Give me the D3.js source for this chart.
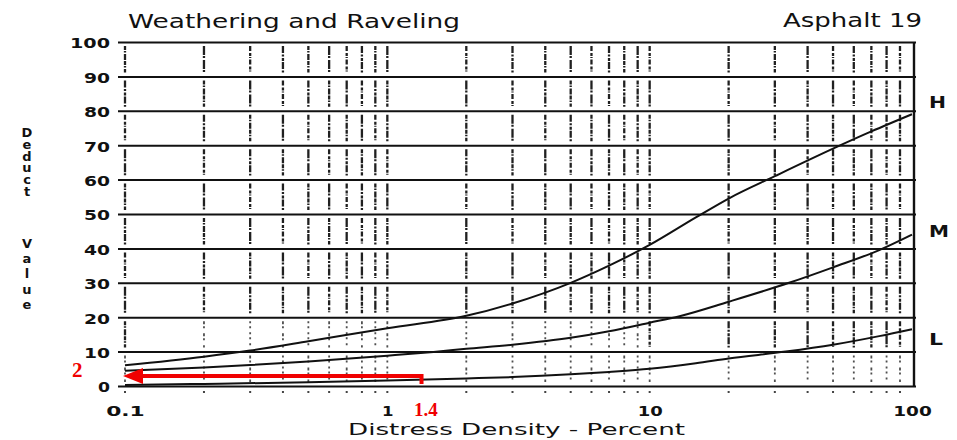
<!DOCTYPE html>
<html>
<head>
<meta charset="utf-8">
<script src="https://cdn.jsdelivr.net/npm/d3@7"></script>
<style>
  html, body { margin: 0; padding: 0; background: #fff; }
  svg { display: block; }
  .vtext { writing-mode: vertical-rl; text-orientation: upright; }
</style>
</head>
<body>
<svg id="chart" width="957" height="440"></svg>
<script>
// ---- data ----
const densityH = [0.1, 0.2, 0.3, 0.5, 1, 2, 3, 5, 7, 10, 15, 20, 30, 50, 70, 100];
const deductH  = [6, 8.5, 10.3, 13, 16.8, 20.4, 24, 30, 35, 41, 49, 54.5, 61, 69, 74, 79];

const densityM = [0.1, 0.2, 0.3, 0.5, 1, 1.5, 2, 3, 5, 7, 10, 13, 20, 34, 50, 75, 100];
const deductM  = [4.4, 5.4, 6.1, 7.1, 8.8, 9.9, 10.8, 12, 14, 15.9, 18.4, 20.3, 24.5, 30, 34.5, 39.5, 44];

const densityL = [0.1, 0.2, 0.5, 1, 2, 3, 5, 7, 10, 15, 20, 33, 50, 75, 100];
const deductL  = [0.3, 0.6, 1.1, 1.6, 2.2, 2.6, 3.4, 4.1, 5, 6.6, 8, 10, 12, 14.5, 16.5];

const curveNames = ["H", "M", "L"];
const curveLabelValues = [79, 44, 16.5];

const yTickValues = [0, 10, 20, 30, 40, 50, 60, 70, 80, 90, 100];
const xTickValues = [0.1, 1, 10, 100];
const xTickLabels = ["0.1", "1", "10", "100"];
const xMinorValues = [0.1, 0.2, 0.3, 0.4, 0.5, 0.6, 0.7, 0.8, 0.9,
                      1, 2, 3, 4, 5, 6, 7, 8, 9,
                      10, 20, 30, 40, 50, 60, 70, 80, 90];

const titleText = "Weathering and Raveling";
const subtitleText = "Asphalt 19";
const xTitleText = "Distress Density - Percent";
const yTitleWords = ["Deduct", "Value"];

// red annotation (arrow from density 1.4 back to deduct value 2)
const annotStartX = 1.35;
const annotArrowY = 2.9;
const annotCornerBottom = 0.6;
const annotXLabel = "1.4";
const annotYLabel = "2";

// ---- scales ----
const svg = d3.select("#chart");
const x = d3.scaleLog().domain([0.1, 100]).range([125, 912]);
const y = d3.scaleLinear().domain([0, 100]).range([386, 42]);
const gridLeft = 118, gridRight = 916;

// ---- minor vertical dashed lines, per 10-unit band ----
const bands = d3.range(0, 100, 10);
const minorG = svg.append("g");
const densePatterns = ["7,1.5,2,1.5,3,1", "4,1,1.5,1.5,6,1", "9,1,2,2", "5,2,3,1,1,1.5"];
xMinorValues.forEach((v, i) => {
  bands.forEach((b, j) => {
    const top = y(b + 10) + 4, bot = y(b) - 4;
    const sparse = (b < 20 && v > 0.15 && v < 10) || (b < 10);
    minorG.append("line")
      .attr("x1", x(v)).attr("x2", x(v))
      .attr("y1", top).attr("y2", bot)
      .attr("stroke", "#151515")
      .attr("stroke-width", sparse ? 1.8 : 2.3)
      .attr("stroke-dasharray", sparse ? ((i + j) % 2 ? "2,3,2,4" : "3,2,2,5") :
            densePatterns[(i + j) % densePatterns.length])
      .attr("opacity", sparse ? 0.75 : 0.95);
  });
  // small dots under the zero line
  minorG.append("rect")
    .attr("x", x(v) - 1).attr("y", y(0) + 5)
    .attr("width", 2).attr("height", 2)
    .attr("fill", "#444");
});

// right solid border at 100
svg.append("line")
  .attr("x1", x(100) + 2).attr("x2", x(100) + 2)
  .attr("y1", y(100)).attr("y2", y(0))
  .attr("stroke", "#111").attr("stroke-width", 2.4);

// ---- y axis with horizontal gridlines ----
const yAxis = d3.axisLeft(y)
  .tickValues(yTickValues)
  .tickSizeInner(-(gridRight - gridLeft))
  .tickSizeOuter(0)
  .tickPadding(8)
  .tickFormat(d3.format("d"));
const yg = svg.append("g")
  .attr("transform", `translate(${gridLeft},0)`)
  .call(yAxis);
yg.select(".domain").remove();
yg.selectAll(".tick line").attr("stroke", "#111").attr("stroke-width", 2);
yg.selectAll(".tick text")
  .attr("font-family", "DejaVu Sans, sans-serif")
  .attr("font-size", 14)
  .attr("font-weight", "bold")
  .attr("fill", "#111")
  .attr("dy", "0.42em")
  .attr("textLength", d => String(d).length * 14 - 2)
  .attr("lengthAdjust", "spacingAndGlyphs");

// ---- x axis labels ----
const xAxis = d3.axisBottom(x)
  .tickValues(xTickValues)
  .tickSize(0)
  .tickPadding(20)
  .tickFormat((d, i) => xTickLabels[i]);
const xg = svg.append("g")
  .attr("transform", `translate(0,${y(0)})`)
  .call(xAxis);
xg.select(".domain").remove();
xg.selectAll(".tick text")
  .attr("font-family", "DejaVu Sans, sans-serif")
  .attr("font-size", 14)
  .attr("font-weight", "bold")
  .attr("fill", "#111")
  .attr("textLength", (d, i) => xTickLabels[i].length * 13.5 - 2)
  .attr("lengthAdjust", "spacingAndGlyphs");

// ---- curves ----
const line = d3.line()
  .x(d => x(d[0]))
  .y(d => y(d[1]))
  .curve(d3.curveMonotoneX);
const curveData = [
  d3.zip(densityH, deductH),
  d3.zip(densityM, deductM),
  d3.zip(densityL, deductL)
];
svg.append("g").selectAll("path")
  .data(curveData)
  .join("path")
  .attr("d", line)
  .attr("fill", "none")
  .attr("stroke", "#111")
  .attr("stroke-width", 2);

// curve labels on the right
svg.append("g").selectAll("text")
  .data(curveNames)
  .join("text")
  .attr("x", 929)
  .attr("y", (d, i) => y(curveLabelValues[i]) + [-12, -4, 10][i] + 6)
  .attr("font-family", "DejaVu Sans, sans-serif")
  .attr("font-size", 15)
  .attr("font-weight", "bold")
  .attr("fill", "#111")
  .attr("textLength", (d, i) => [17, 20, 14][i])
  .attr("lengthAdjust", "spacingAndGlyphs")
  .text(d => d);

// ---- titles ----
svg.append("text")
  .attr("x", 128).attr("y", 28)
  .attr("font-family", "DejaVu Sans, sans-serif")
  .attr("font-size", 20)
  .attr("fill", "#111")
  .attr("textLength", 332).attr("lengthAdjust", "spacingAndGlyphs")
  .text(titleText);

svg.append("text")
  .attr("x", 783).attr("y", 27)
  .attr("font-family", "DejaVu Sans, sans-serif")
  .attr("font-size", 19)
  .attr("fill", "#111")
  .attr("textLength", 139).attr("lengthAdjust", "spacingAndGlyphs")
  .text(subtitleText);

svg.append("text")
  .attr("x", 348).attr("y", 435)
  .attr("font-family", "DejaVu Sans, sans-serif")
  .attr("font-size", 16)
  .attr("fill", "#111")
  .attr("textLength", 337).attr("lengthAdjust", "spacingAndGlyphs")
  .text(xTitleText);

// vertical stacked y-axis title (upright letters)
svg.append("g").selectAll("text")
  .data(yTitleWords)
  .join("text")
  .attr("class", "vtext")
  .attr("x", 27)
  .attr("y", (d, i) => [125, 236][i])
  .attr("font-family", "DejaVu Sans, sans-serif")
  .attr("font-size", 13)
  .attr("font-weight", "bold")
  .attr("fill", "#111")
  .attr("letter-spacing", (d, i) => [-3.2, 0.2][i])
  .text(d => d);

// ---- red annotation ----
const red = "#f00000";
const ax0 = x(annotStartX), ay = y(annotArrowY), tipX = x(0.1) - 2;
svg.append("path")
  .attr("d", `M${ax0},${y(annotCornerBottom)}L${ax0},${ay}L${tipX + 18},${ay}`)
  .attr("fill", "none")
  .attr("stroke", red)
  .attr("stroke-width", 4);
svg.append("path")
  .attr("d", `M${tipX},${ay}L${tipX + 20},${ay - 8}L${tipX + 20},${ay + 8}Z`)
  .attr("fill", red);
svg.append("text")
  .attr("x", 72).attr("y", 377)
  .attr("font-family", "Liberation Serif, DejaVu Serif, serif")
  .attr("font-size", 21)
  .attr("font-weight", "bold")
  .attr("fill", red)
  .text(annotYLabel);
svg.append("text")
  .attr("x", 414).attr("y", 415.5)
  .attr("font-family", "Liberation Serif, DejaVu Serif, serif")
  .attr("font-size", 19)
  .attr("font-weight", "bold")
  .attr("fill", red)
  .text(annotXLabel);
</script>
</body>
</html>
